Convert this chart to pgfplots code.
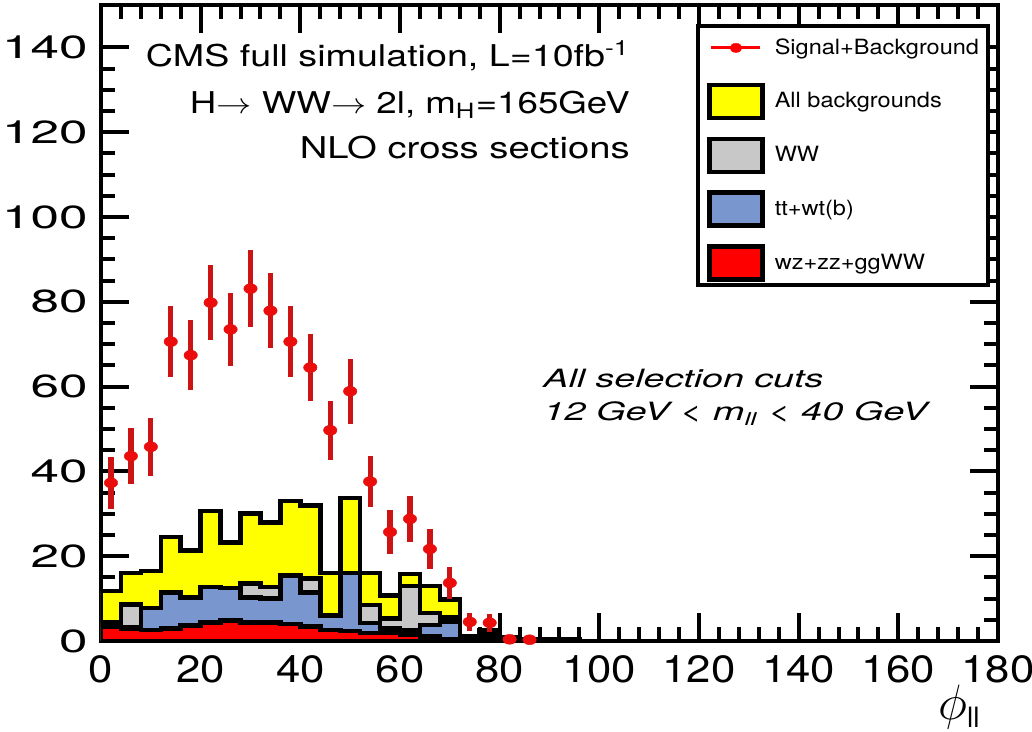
\documentclass[border=0pt]{standalone}
\usepackage{pgfplots}
\usepackage{pgfplotstable}
\pgfplotsset{compat=1.18}
\usepackage{fontspec}
\setmainfont{TeX Gyre Heros}
\usepackage{graphicx}

\definecolor{histyellow}{RGB}{255,255,0}
\definecolor{histgrey}{RGB}{200,200,200}
\definecolor{histblue}{RGB}{122,150,206}
\definecolor{histred}{RGB}{255,0,0}
\definecolor{errred}{RGB}{205,20,20}
\definecolor{dotred}{RGB}{235,12,12}

% horizontal stretch of a piece of text
\newcommand\hs[2]{\scalebox{#1}[1]{#2}}

\pgfplotsset{
  hist/.style={const plot mark left, draw=black, line width=2.3pt, line join=miter,
    legend image code/.code={\draw[##1, line width=2.3pt] (0pt,-8.25pt) rectangle (26.5pt,8.25pt);}},
  points legend/.style={legend image code/.code={\path[draw=none, fill=none] (-1.15pt,-9.4pt) rectangle (27.65pt,9.4pt);
    \draw[##1, mark repeat=2, mark phase=2] plot coordinates {(1pt,0pt) (13.25pt,0pt) (25.5pt,0pt)};}},
}

% signal + background: bin centre, entries, statistical error
\pgfplotstableread{
  x  y    ey
  2  37.3 6.1
  6  43.6 6.6
  10 45.8 6.8
  14 70.6 8.4
  18 67.4 8.2
  22 79.8 8.9
  26 73.5 8.6
  30 83.1 9.1
  34 77.9 8.8
  38 70.6 8.4
  42 64.5 8.0
  46 49.7 7.0
  50 58.9 7.7
  54 37.6 6.1
  58 25.7 5.1
  62 28.8 5.4
  66 21.7 4.7
  70 13.7 3.7
  74 4.5  2.1
  78 4.3  2.1
  82 0.4  0.6
  86 0.3  0.5
}\sigbkg

\begin{document}
\begin{tikzpicture}
\begin{axis}[
  scale only axis, width=448.5pt, height=318pt,
  xmin=0, xmax=180, ymin=0, ymax=150,
  xtick={0,20,...,180}, ytick={0,20,...,140},
  minor x tick num=4, minor y tick num=3,
  tick align=inside,
  major tick length=14pt, minor tick length=7pt,
  axis line style={line width=2.3pt},
  every tick/.style={black, line width=2pt},
  xticklabel style={font=\fontsize{19}{19}\selectfont, inner sep=0pt, yshift=-7pt},
  yticklabel style={font=\fontsize{16}{16}\selectfont, inner sep=0pt, xshift=-6.5pt},
  xticklabel={\hs{1.15}{\pgfmathprintnumber[assume math mode=true]{\tick}}},
  yticklabel={\hs{1.6}{\pgfmathprintnumber[assume math mode=true]{\tick}}},
  xlabel={{\fontsize{23}{23}\selectfont$\phi$}\raisebox{-4pt}{\fontsize{14}{14}\selectfont ll}},
  xlabel style={at={(rel axis cs:1,0)}, anchor=north east, xshift=-9pt, yshift=-22pt, inner sep=0pt},
  legend style={at={(axis cs:178.4,145.5)}, anchor=north east, draw=black, line width=2pt,
    inner xsep=4.5pt, inner ysep=1.5pt, row sep=8.1pt, column sep=5pt,
    font=\fontsize{10.5}{12}\selectfont, nodes={inner sep=0pt}},
  legend cell align=left,
]

% legend entry for the data points, listed first
\addlegendimage{points legend, color=histred, line width=1.5pt, mark=*, mark size=2.3pt,
  mark options={xscale=1.3, fill=histred, draw=histred, line width=0.2pt}}
\addlegendentry{\hs{1.12}{Signal+Background}}

% all backgrounds
\addplot[hist, fill=histyellow] coordinates {
  (0,11.8) (4,16) (8,16.5) (12,24.5) (16,21.3) (20,30.7) (24,23.2) (28,30)
  (32,28) (36,33) (40,32) (44,16) (48,33.7) (52,16) (56,10.8) (60,15.8)
  (64,13) (68,9.8) (72,1.2) (76,2.5) (80,0.8) (84,0.3) (88,0.5) (92,0.5) (96,0)
} \closedcycle;
\addlegendentry{\hs{1.12}{All backgrounds}}

% WW
\addplot[hist, fill=histgrey] coordinates {
  (0,4.3) (4,8.6) (8,5) (12,8) (16,8) (20,9) (24,9) (28,13.6)
  (32,12.7) (36,12) (40,14.8) (44,4) (48,12) (52,8.5) (56,5.3) (60,13)
  (64,6.6) (68,5.6) (72,0.8) (76,2.2) (80,0.3) (84,0) (88,0)
} \closedcycle;
\addlegendentry{\hs{1.12}{WW}}

% tt + wt(b)
\addplot[hist, fill=histblue] coordinates {
  (0,3.6) (4,3.3) (8,7.8) (12,11.5) (16,10.3) (20,12.7) (24,12.5) (28,10.3)
  (32,10) (36,15.5) (40,11.5) (44,6) (48,16) (52,4.2) (56,3.0) (60,2.5)
  (64,3.8) (68,4.5) (72,0.5) (76,1.1) (80,0.3) (84,0) (88,0)
} \closedcycle;
\addlegendentry{\hs{1.12}{tt+wt(b)}}

% wz + zz + ggWW
\addplot[hist, fill=histred] coordinates {
  (0,3.3) (4,3.0) (8,2.6) (12,3.0) (16,3.7) (20,4.4) (24,4.9) (28,4.3)
  (32,4.4) (36,4.0) (40,3.4) (44,2.6) (48,2.4) (52,1.9) (56,1.9) (60,1.5)
  (64,1.1) (68,0.5) (72,0.2) (76,0) (80,0)
} \closedcycle;
\addlegendentry{\hs{1.12}{wz+zz+ggWW}}

% signal + background: error bars first, markers on top
\addplot[forget plot, only marks, mark=none,
  error bars/.cd, y dir=both, y explicit, error mark=none,
  error bar style={line width=2.6pt, errred}]
  table[x=x, y=y, y error=ey] {\sigbkg};
\addplot[forget plot, only marks, color=dotred, mark=*, mark size=2.5pt,
  mark options={fill=dotred, draw=dotred, line width=0.2pt, xscale=1.35}]
  table[x=x, y=y] {\sigbkg};

\node[anchor=base east, inner sep=0pt, font=\fontsize{15}{15}\selectfont]
  at (axis cs:106.2,135.6) {\resizebox{242pt}{\height}{CMS full simulation, L=10fb\textsuperscript{-1}}};
\node[anchor=base east, inner sep=0pt, font=\fontsize{15}{15}\selectfont]
  at (axis cs:106.2,124.5) {\resizebox{220pt}{\height}{H$\rightarrow$ WW$\rightarrow$ 2l, m\textsubscript{H}=165GeV}};
\node[anchor=base east, inner sep=0pt, font=\fontsize{15}{15}\selectfont]
  at (axis cs:106.2,113.9) {\resizebox{165pt}{\height}{NLO cross sections}};
\node[anchor=base west, inner sep=0pt, font=\fontsize{12.6}{13}\selectfont\itshape]
  at (axis cs:88.7,59.8) {\resizebox{140pt}{\height}{All selection cuts}};
\node[anchor=base west, inner sep=0pt, font=\fontsize{12.6}{13}\selectfont\itshape]
  at (axis cs:88.7,52.0) {\resizebox{192pt}{\height}{12 GeV < m\textsubscript{ll} < 40 GeV}};
\end{axis}
\pgfresetboundingbox
\path ([xshift=-50.5pt,yshift=-45.5pt]current axis.south west)
  rectangle ([xshift=17pt,yshift=2.5pt]current axis.north east);
\end{tikzpicture}
\end{document}
